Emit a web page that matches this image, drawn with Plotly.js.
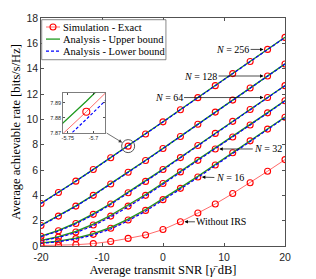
<!DOCTYPE html>
<html>
<head>
<meta charset="utf-8">
<script src="https://cdn.plot.ly/plotly-3.0.1.min.js"></script>
<style>html,body{margin:0;padding:0;background:#fff;}#chart{width:316px;height:279px;}</style>
</head>
<body>
<div id="chart"></div>
<script>
// Average transmit SNR (dB)
const snrDb = [-20, -17.143, -14.286, -11.429, -8.571, -5.714, -2.857, 0, 2.857, 5.714, 8.571, 11.429, 14.286, 17.143, 20];

// N = 256
const sim256 = [3.36, 4.22, 5.12, 6.04, 6.97, 7.884, 8.84, 9.80, 10.76, 11.71, 12.66, 13.61, 14.56, 15.52, 16.47];
const up256  = [3.37, 4.23, 5.13, 6.05, 6.98, 7.891, 8.85, 9.81, 10.77, 11.72, 12.67, 13.62, 14.57, 15.53, 16.48];
const lo256  = [3.35, 4.21, 5.11, 6.03, 6.96, 7.879, 8.83, 9.79, 10.75, 11.70, 12.65, 13.60, 14.55, 15.51, 16.46];
// N = 128
const sim128 = [1.62, 2.36, 3.15, 4.00, 4.90, 5.82, 6.75, 7.70, 8.65, 9.61, 10.57, 11.52, 12.47, 13.42, 14.37];
const up128  = [1.64, 2.38, 3.17, 4.02, 4.92, 5.84, 6.77, 7.71, 8.66, 9.62, 10.58, 11.53, 12.48, 13.43, 14.38];
const lo128  = [1.60, 2.34, 3.13, 3.98, 4.88, 5.80, 6.73, 7.69, 8.64, 9.60, 10.56, 11.51, 12.46, 13.41, 14.36];
// N = 64
const sim64 = [0.76, 1.20, 1.78, 2.50, 3.32, 4.20, 5.10, 6.04, 6.98, 7.93, 8.89, 9.84, 10.78, 11.72, 12.66];
const up64  = [0.78, 1.23, 1.82, 2.54, 3.36, 4.24, 5.13, 6.07, 7.00, 7.95, 8.91, 9.86, 10.79, 11.73, 12.67];
const lo64  = [0.74, 1.17, 1.75, 2.46, 3.28, 4.17, 5.07, 6.01, 6.96, 7.91, 8.87, 9.82, 10.77, 11.71, 12.65];
// N = 32
const sim32 = [0.42, 0.70, 1.10, 1.66, 2.36, 3.15, 4.00, 4.93, 5.85, 6.76, 7.66, 8.60, 9.55, 10.51, 11.47];
const up32  = [0.45, 0.74, 1.16, 1.73, 2.43, 3.22, 4.06, 4.98, 5.90, 6.80, 7.70, 8.63, 9.58, 10.53, 11.49];
const lo32  = [0.40, 0.67, 1.05, 1.60, 2.30, 3.09, 3.95, 4.88, 5.81, 6.72, 7.63, 8.57, 9.53, 10.49, 11.45];
// N = 16
const sim16 = [0.22, 0.36, 0.58, 0.92, 1.40, 2.05, 2.81, 3.66, 4.55, 5.45, 6.40, 7.36, 8.30, 9.23, 10.16];
const up16  = [0.24, 0.39, 0.63, 0.98, 1.47, 2.12, 2.88, 3.72, 4.61, 5.50, 6.45, 7.40, 8.34, 9.26, 10.18];
const lo16  = [0.21, 0.34, 0.54, 0.87, 1.34, 1.99, 2.75, 3.60, 4.50, 5.41, 6.36, 7.33, 8.27, 9.21, 10.14];
// Without IRS
const simNoIRS = [0.04, 0.06, 0.10, 0.19, 0.36, 0.60, 0.87, 1.30, 1.91, 2.60, 3.32, 4.14, 4.99, 5.90, 6.82];

const seriesNames = ['Simulation - Exact', 'Analysis - Upper bound', 'Analysis - Lower bound'];
const xTicks = [-20, -10, 0, 10, 20];
const yTicks = [0, 2, 4, 6, 8, 10, 12, 14, 16, 18];
const insetXTicks = [-5.75, -5.7];
const insetXTickText = ['-5.75', '-5.7'];
const insetYTicks = [7.87, 7.88, 7.89];

const RED_LINE = '#ff6a6a', RED = '#ff0000', GREEN = '#1f9a1f', BLUE = '#0000ff';
const SERIF = '"Liberation Serif", "Times New Roman", serif';
const SANS = '"Liberation Sans", Arial, sans-serif';
const AX = '#262626';
const BLUE_DASH = '3px,2px';

function simTrace(y, name, xa, ya, msize) {
  return {x: snrDb, y: y, type: 'scatter', mode: 'lines+markers', name: name,
    showlegend: false, xaxis: xa || 'x', yaxis: ya || 'y',
    line: {color: RED_LINE, width: 1},
    marker: {symbol: 'circle-open', size: msize || 6, color: RED, line: {width: 1.1, color: RED}}};
}
function upTrace(y, name, xa, ya) {
  return {x: snrDb, y: y, type: 'scatter', mode: 'lines', name: name,
    showlegend: false, xaxis: xa || 'x', yaxis: ya || 'y',
    line: {color: GREEN, width: 1.3}};
}
function loTrace(y, name, xa, ya) {
  return {x: snrDb, y: y, type: 'scatter', mode: 'lines', name: name,
    showlegend: false, xaxis: xa || 'x', yaxis: ya || 'y',
    line: {color: BLUE, width: 1.2, dash: BLUE_DASH}};
}

const groups = [['N=256', sim256, up256, lo256], ['N=128', sim128, up128, lo128], ['N=64', sim64, up64, lo64],
                ['N=32', sim32, up32, lo32], ['N=16', sim16, up16, lo16]];
const traces = [];
groups.forEach(g => {
  traces.push(simTrace(g[1], seriesNames[0] + ' ' + g[0]));
  traces.push(upTrace(g[2], seriesNames[1] + ' ' + g[0]));
  traces.push(loTrace(g[3], seriesNames[2] + ' ' + g[0]));
});
traces.push(simTrace(simNoIRS, 'Without IRS'));
// highlight circle around the zoomed point
traces.push({x: [snrDb[5]], y: [sim256[5]], type: 'scatter', mode: 'markers', showlegend: false,
  marker: {symbol: 'circle-open', size: 13, color: '#555555', line: {width: 1, color: '#555555'}}});
// inset (zoom of N = 256 around the 6th SNR point)
traces.push(simTrace(sim256, 'inset sim', 'x2', 'y2', 7));
traces.push(upTrace(up256, 'inset up', 'x2', 'y2'));
traces.push(loTrace(lo256, 'inset lo', 'x2', 'y2'));

const annFont = {family: SERIF, size: 10, color: '#000'};
function arrowAnn(xi, yArr, text, ax, ay) {
  return {x: snrDb[xi], y: yArr[xi], xref: 'x', yref: 'y', text: text, showarrow: true,
    ax: ax, ay: ay, arrowhead: 2, arrowsize: 1, arrowwidth: 0.7, arrowcolor: '#000',
    standoff: 4, font: annFont};
}
const annotations = [
  arrowAnn(13, sim256, '<i>N</i> = 256', -35, 0),
  arrowAnn(13, sim128, '<i>N</i> = 128', -67, 0),
  arrowAnn(13, sim64, '<i>N</i> = 64', -99, 0),
  arrowAnn(10, sim32, '<i>N</i> = 32', 53, 0),
  arrowAnn(9, sim16, '<i>N</i> = 16', 32, 1),
  arrowAnn(8, simNoIRS, 'Without IRS', 41, 0),
  {x: snrDb[5], y: sim256[5], xref: 'x', yref: 'y', text: '', showarrow: true,
    ax: -23, ay: -14, arrowhead: 2, arrowsize: 1, arrowwidth: 0.7, arrowcolor: '#333', standoff: 7}
];

// legend (drawn as a box with line samples and text, MATLAB style)
const legBox = {x0: 0.003, x1: 0.512, y0: 0.817, y1: 0.9925};
const legRows = [0.9605, 0.9075, 0.855];
const legX0 = 0.0205, legX1 = 0.0779, legXm = 0.0492, legTextX = 0.082;
const shapes = [
  {type: 'rect', xref: 'paper', yref: 'paper', x0: legBox.x0, x1: legBox.x1, y0: legBox.y0, y1: legBox.y1,
    line: {color: '#555', width: 0.7}, fillcolor: '#ffffff', layer: 'above'},
  {type: 'line', xref: 'paper', yref: 'paper', x0: legX0, x1: legX1, y0: legRows[0], y1: legRows[0],
    line: {color: RED_LINE, width: 1}, layer: 'above'},
  {type: 'circle', xref: 'paper', yref: 'paper', xsizemode: 'pixel', ysizemode: 'pixel',
    xanchor: legXm, yanchor: legRows[0], x0: -3, x1: 3, y0: -3, y1: 3,
    line: {color: RED, width: 1.1}, fillcolor: 'rgba(0,0,0,0)', layer: 'above'},
  {type: 'line', xref: 'paper', yref: 'paper', x0: legX0, x1: legX1, y0: legRows[1], y1: legRows[1],
    line: {color: GREEN, width: 1.3}, layer: 'above'},
  {type: 'line', xref: 'paper', yref: 'paper', x0: legX0, x1: legX1, y0: legRows[2], y1: legRows[2],
    line: {color: BLUE, width: 1.2, dash: BLUE_DASH}, layer: 'above'}
];
seriesNames.forEach((t, i) => {
  annotations.push({xref: 'paper', yref: 'paper', x: legTextX, y: legRows[i], text: t, showarrow: false,
    xanchor: 'left', yanchor: 'middle', font: {family: SERIF, size: 10.5, color: '#000'}});
});

const axisCommon = {showline: true, linecolor: AX, linewidth: 0.8, mirror: 'ticks', ticks: 'inside',
  ticklen: 3, tickwidth: 0.8, tickcolor: AX, showgrid: false, zeroline: false};

const layout = {
  width: 316, height: 279,
  margin: {l: 41, r: 31, t: 18, b: 33, pad: 0},
  paper_bgcolor: '#ffffff', plot_bgcolor: '#ffffff',
  showlegend: false,
  xaxis: Object.assign({}, axisCommon, {range: [-20, 20], tickvals: xTicks, ticktext: xTicks.map(String),
    tickfont: {family: SANS, size: 10.5, color: AX}, ticklabelstandoff: 2,
    title: {text: 'Average transmit SNR [<i>γ̄</i> dB]', font: {family: SERIF, size: 12.5, color: '#000'}, standoff: 2}}),
  yaxis: Object.assign({}, axisCommon, {range: [0, 18], tickvals: yTicks, ticktext: yTicks.map(String),
    tickfont: {family: SANS, size: 10.5, color: AX},
    title: {text: 'Average achievable rate [bits/s/Hz]', font: {family: SERIF, size: 12.5, color: '#000'}, standoff: 2}}),
  xaxis2: Object.assign({}, axisCommon, {domain: [0.089, 0.2635], range: [-5.76, -5.677], anchor: 'y2',
    tickvals: insetXTicks, ticktext: insetXTickText, ticklen: 2, tickfont: {family: SANS, size: 5.5, color: AX}, linewidth: 0.6}),
  yaxis2: Object.assign({}, axisCommon, {domain: [0.4965, 0.6725], range: [7.87, 7.8967], anchor: 'x2',
    tickvals: insetYTicks, ticktext: insetYTicks.map(v => v.toFixed(2)), ticklen: 2, tickfont: {family: SANS, size: 5.5, color: AX}, linewidth: 0.6}),
  shapes: shapes,
  annotations: annotations
};

Plotly.newPlot('chart', traces, layout, {staticPlot: true, displayModeBar: false});
</script>
</body>
</html>
